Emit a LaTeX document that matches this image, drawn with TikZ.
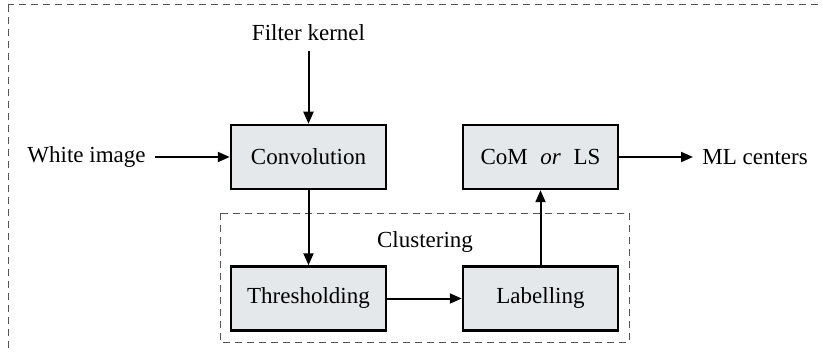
\documentclass[tikz,border=0pt]{standalone}
\usepackage{fontspec}
\setmainfont{Liberation Serif}
\usetikzlibrary{arrows.meta}
\definecolor{boxfill}{HTML}{E5E8EB}
\definecolor{frame}{HTML}{555555}
\tikzset{
  proc/.style={draw=black, line width=1.25pt, fill=boxfill, minimum width=77.5pt, minimum height=32pt, inner sep=0pt},
  lbl/.style={inner sep=0pt},
  flow/.style={line width=1pt, -{Triangle[length=6pt,width=5pt]}},
  group/.style={draw=frame, line width=0.5pt, dash pattern=on 3.5pt off 2.5pt},
}
\begin{document}
\begin{tikzpicture}[x=0.5pt, y=-0.5pt, font=\fontsize{11.5}{13.5}\selectfont]
\useasboundingbox (0,0) rectangle (823,352);
\clip (0,0) rectangle (823,352);
% outer frame (continues past the page edge)
\draw[group] (8,5) rectangle (860,380);
% clustering group
\draw[group] (220,213) rectangle (629,342);
\node[lbl] (clu) at (425,242) {Clustering};
% processing blocks
\node[proc] (conv) at (308.5,157) {Convolution};
\node[proc] (com) at (540.5,157) {CoM\hspace{0.55em}\textit{or}\hspace{0.55em}LS};
\node[proc] (thr) at (308.5,298.5) {Thresholding};
\node[proc] (lab) at (540.5,298.5) {Labelling};
% inputs and output
\node[lbl] (fk) at (308.5,33) {Filter kernel};
\node[lbl, anchor=east] (wi) at (146,157) {White image};
\node[lbl, anchor=west] (mlc) at (702,157) {ML centers};
% connectors
\draw[flow] ([yshift=-5pt]fk.south) -- (conv.north);
\draw[flow] ([xshift=4.5pt]wi.east) -- (conv.west);
\draw[flow] (com.east) -- ([xshift=-4.5pt]mlc.west);
\draw[flow] (conv.south) -- (thr.north);
\draw[flow] (thr.east) -- (lab.west);
\draw[flow] (lab.north) -- (com.south);
\end{tikzpicture}
\end{document}
